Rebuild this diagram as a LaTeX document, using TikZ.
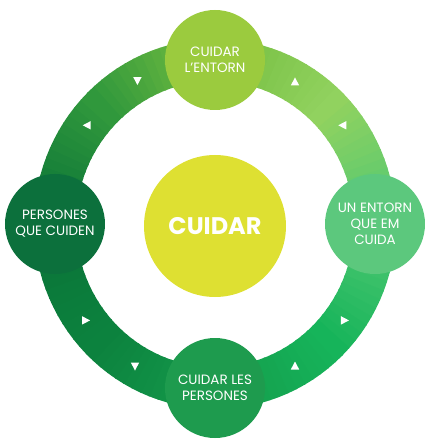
\documentclass[tikz,border=0pt]{standalone}
\usepackage{fontspec}
\setmainfont{Poppins}
\usepackage{xcolor}
\definecolor{ringA}{RGB}{118,190,64}
\definecolor{ringB}{RGB}{145,210,95}
\definecolor{ringC}{RGB}{80,200,115}
\definecolor{ringD}{RGB}{22,180,90}
\definecolor{ringE}{RGB}{20,155,75}
\definecolor{ringF}{RGB}{12,130,62}
\definecolor{ringG}{RGB}{10,115,55}
\definecolor{ringH}{RGB}{48,152,60}
\definecolor{topC}{RGB}{155,203,62}
\definecolor{rightC}{RGB}{92,200,125}
\definecolor{bottomC}{RGB}{30,155,78}
\definecolor{leftC}{RGB}{12,112,60}
\definecolor{midC}{RGB}{222,224,50}

\begin{document}
\begin{tikzpicture}[x=1pt, y=1pt,
        spot/.style={circle, minimum size=100pt, inner sep=0pt, text=white, align=center,
            font=\fontsize{13.5}{16}\selectfont}]
            \useasboundingbox (-215,-215) rectangle (210,224);
            % ring, coloured bit by bit
            \foreach \s/\ca/\cb in {90/ringA/ringB, 45/ringB/ringC, 0/ringC/ringD, -45/ringD/ringE,
                -90/ringE/ringF, -135/ringF/ringG, -180/ringG/ringH, -225/ringH/ringA}
                \foreach \t in {0,...,14}{
                    \pgfmathsetmacro\st{\s-3*\t}
                    \pgfmathtruncatemacro\p{\t*100/14}
                    \draw[line width=42pt, color=\cb!\p!\ca] (\st:160 and 164)
                        arc[start angle=\st, delta angle=-3.6, x radius=160, y radius=164];
                }
            % small white tips
            \foreach \a/\d in {60/90, 37/180, 119/270, 143/180, -36/0, -60/90, -144/0, -120/270}
                \fill[white, shift={(\a:160 and 164)}, rotate=\d] (4.5,0) -- (-3.5,4.2) -- (-3.5,-4.2) -- cycle;
            \node[spot, fill=topC] (entorn) at (90:160 and 164) {CUIDAR\\L'ENTORN};
            \node[spot, fill=rightC] (medi) at (0:160 and 164) {UN ENTORN\\QUE EM\\CUIDA};
            \node[spot, fill=bottomC] (persones) at (-90:160 and 164) {CUIDAR LES\\PERSONES};
            \node[spot, fill=leftC] (cuidadors) at (180:160 and 164) {PERSONES\\QUE CUIDEN};
            \node[circle, fill=midC, minimum size=142pt, text=white,
                font=\fontsize{24}{28}\selectfont\bfseries] (cuidar) at (0,-2) {CUIDAR};
        \end{tikzpicture}
\end{document}
